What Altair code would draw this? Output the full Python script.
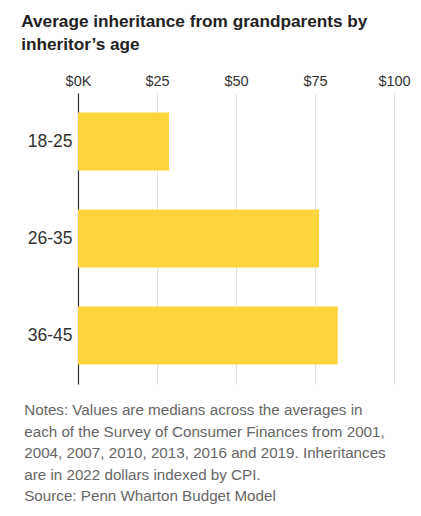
import altair as alt
import pandas as pd

ages = ["18-25", "26-35", "36-45"]
values = [28.8, 76.3, 82.2]
tick_values = [0, 25, 50, 75, 100]

title_lines = ["Average inheritance from grandparents by", "inheritor\u2019s age"]
note_lines = [
    "Notes: Values are medians across the averages in",
    "each of the Survey of Consumer Finances from 2001,",
    "2004, 2007, 2010, 2013, 2016 and 2019. Inheritances",
    "are in 2022 dollars indexed by CPI.",
    "Source: Penn Wharton Budget Model",
]

df = pd.DataFrame({"age": ages, "value": values})

SANS = "Liberation Sans, Arial, sans-serif"

bars = (
    alt.Chart(df)
    .mark_bar(color="#FFD53E")
    .encode(
        y=alt.Y(
            "age:N",
            sort=ages,
            scale=alt.Scale(paddingInner=0.4, paddingOuter=0.2),
            axis=alt.Axis(
                title=None,
                ticks=False,
                domain=True,
                domainColor="#333333",
                domainWidth=1.2,
                labelFont=SANS,
                labelFontSize=17.5,
                labelColor="#333333",
                labelPadding=6,
                grid=False,
            ),
        ),
        x=alt.X(
            "value:Q",
            scale=alt.Scale(domain=[0, 100], nice=False),
            axis=alt.Axis(
                orient="top",
                title=None,
                values=tick_values,
                labelExpr="datum.value == 0 ? '$0K' : '$' + datum.value",
                ticks=False,
                domain=False,
                grid=True,
                gridColor="#e0e0e0",
                gridWidth=1,
                labelFont=SANS,
                labelFontSize=14.5,
                labelColor="#333333",
                labelPadding=5,
                labelFlush=False,
            ),
        ),
    )
    .properties(
        width=316,
        height=291,
        title=alt.TitleParams(
            text=note_lines,
            orient="bottom",
            anchor="start",
            frame="bounds",
            font=SANS,
            fontSize=15.2,
            fontWeight="normal",
            color="#666666",
            lineHeight=21.5,
            offset=19,
            dx=-3,
        ),
    )
)

chart = (
    alt.vconcat(bars)
    .properties(
        title=alt.TitleParams(
            text=title_lines,
            anchor="start",
            frame="bounds",
            font=SANS,
            fontSize=17.2,
            fontWeight="bold",
            color="#222222",
            lineHeight=23,
            offset=20,
            dx=-3,
        ),
        padding={"left": 13, "top": 4, "right": 0, "bottom": 0},
    )
    .configure_view(stroke=None)
)

chart.save("out.html", embed_options={"renderer": "svg", "actions": False})
